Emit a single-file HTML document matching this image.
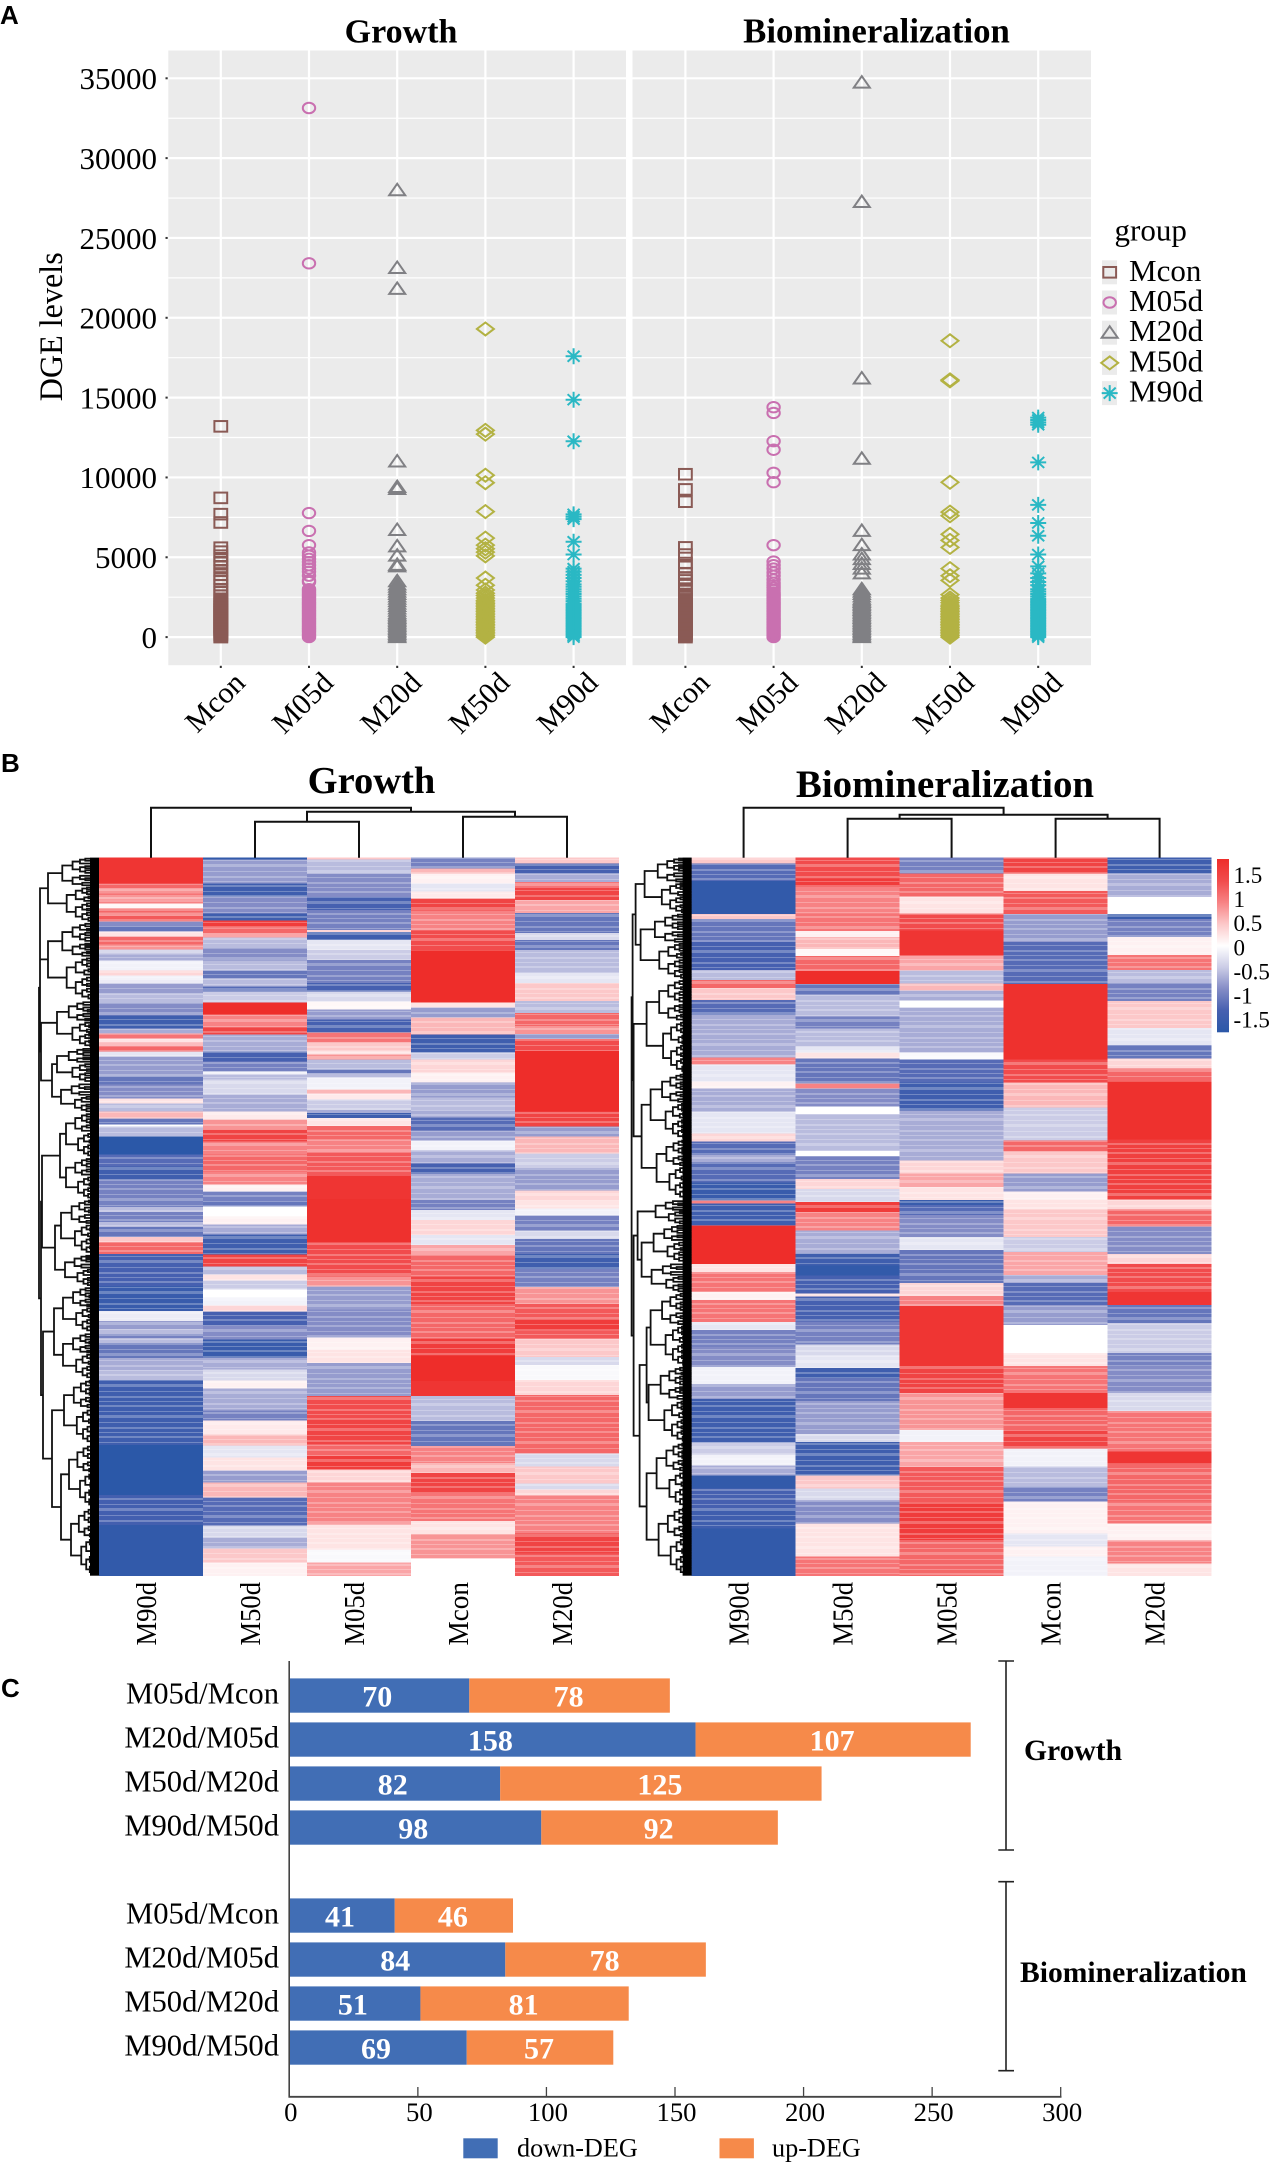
<!DOCTYPE html>
<html lang="en">
<head>
<meta charset="utf-8">
<title>DGE levels, heatmaps and DEG counts</title>
<style>
html,body{margin:0;padding:0;background:#fff}
svg{display:block}
text{font-family:"Liberation Serif",serif;fill:#000}
.letter{font-family:"Liberation Sans",sans-serif;font-weight:700;font-size:26px}
.bold{font-weight:700}
</style>
</head>
<body>
<svg id="figure" xmlns="http://www.w3.org/2000/svg" width="1274" height="2168" viewBox="0 0 1274 2168">
<rect width="1274" height="2168" fill="#fff"/>
<text class="letter" x="0" y="24">A</text>
<text class="letter" x="1" y="772">B</text>
<text class="letter" x="1" y="1697">C</text>
<text class="bold" x="401" y="42.5" font-size="34" text-anchor="middle">Growth</text>
<text class="bold" x="876.5" y="42.5" font-size="34.8" text-anchor="middle">Biomineralization</text>
<text font-size="33" text-anchor="middle" textLength="149" lengthAdjust="spacingAndGlyphs" transform="translate(62,326.8) rotate(-90)">DGE levels</text>
<text x="1114.5" y="240.7" font-size="31">group</text>
<text class="bold" x="371.5" y="793" font-size="38.5" text-anchor="middle">Growth</text>
<text class="bold" x="945" y="797" font-size="38.9" text-anchor="middle">Biomineralization</text>
<text class="bold" x="1024" y="1760" font-size="29.6">Growth</text>
<text class="bold" x="1020" y="1982" font-size="29.6">Biomineralization</text>
</svg>
<script>
/* ---------- Panel A data ---------- */
const scatterGroups = ['Mcon','M05d','M20d','M50d','M90d'];
const scatterTicks = [0,5000,10000,15000,20000,25000,30000,35000];
const growthMcon = [13200,8720,7700,7180,5600,5350,5100,4850,4650,4400,4150,3900,3650,3500,3250,3000,2800,2600,2400,2270,2150,2050,1950,1850,1750,1650,1550,1450,1350,1250,1150,1050,950,850,750,650,550,450,350,250,150,50,0];
const growthM05d = [33140,23410,7770,6650,5760,5300,5100,4900,4700,4500,4300,4100,3850,3550,3450,3000,2900,2800,2700,2600,2500,2400,2300,2200,2100,2000,1900,1800,1700,1600,1500,1400,1300,1200,1100,1000,900,800,700,600,500,400,300,200,100,0];
const growthM20d = [27990,23120,21810,11000,9400,9280,6710,5680,5100,4520,4430,3500,3300,3150,3000,2850,2700,2550,2400,2250,2100,1950,1800,1650,1500,1400,1300,1200,1100,1000,900,800,700,600,500,400,300,200,100,0];
const growthM50d = [19300,12950,12710,10140,9670,7860,6200,5760,5530,5320,5090,3700,3250,2950,2750,2600,2450,2300,2200,2100,2000,1900,1800,1700,1600,1500,1400,1300,1200,1100,1000,900,800,700,600,500,400,300,200,100,0];
const growthM90d = [17590,14870,12270,7690,7540,7390,5970,5170,4290,4100,3900,3700,3500,3300,3150,3000,2850,2700,2550,2400,2250,2100,2000,1900,1800,1700,1600,1500,1400,1300,1200,1100,1000,900,800,700,600,500,400,300,200,100,0];
const bioMcon = [10200,9250,8480,5620,5170,4640,4400,4000,3700,3550,3250,2960,2700,2500,2365,2200,2100,2000,1900,1800,1700,1600,1500,1400,1300,1200,1100,1000,900,800,700,600,500,400,300,200,100,0];
const bioM05d = [14400,14040,12270,11735,10290,9700,5760,4730,4500,4290,4050,3840,3600,3400,3250,3100,2950,2800,2700,2600,2500,2400,2300,2200,2100,2000,1900,1800,1700,1600,1500,1400,1300,1200,1100,1000,900,800,700,600,500,400,300,200,100,0];
const bioM20d = [34730,27250,16200,11170,6650,5760,5170,4880,4580,4290,3990,3000,2850,2700,2550,2400,2300,2200,2100,2000,1900,1800,1700,1600,1500,1400,1300,1200,1100,1000,900,800,700,600,500,400,300,200,100,0];
const bioM50d = [18560,16110,16050,9700,7830,7600,6440,6060,5620,4290,3840,3550,2660,2450,2300,2150,2000,1900,1800,1700,1600,1500,1400,1300,1200,1100,1000,900,800,700,600,500,400,300,200,100,0];
const bioM90d = [13750,13600,13450,13300,10940,8280,7150,6350,5170,4430,3990,3700,3450,3250,3000,2850,2700,2550,2400,2300,2200,2100,2000,1900,1800,1700,1600,1500,1400,1300,1200,1100,1000,900,800,700,600,500,400,300,200,100,0];

/* ---------- Panel B data: [value, gene rows] runs, top to bottom ---------- */
const heatLabels = ['M90d','M50d','M05d','Mcon','M20d'];
const colorbarTicks = [1.5,1,0.5,0,-0.5,-1,-1.5];
const growthHeatM90d = [[1.5,26],[1.0,5],[0.7,5],[0.9,3],[0.5,3],[0.8,4],[0.05,5],[1.0,4],[0.7,3],[1.1,6],[-0.8,5],[-1.0,5],[0.2,5],[1.0,8],[0.7,5],[-0.4,5],[-0.6,6],[-0.1,10],[0.3,5],[-0.1,5],[-0.2,3],[-0.7,10],[-0.5,9],[-0.8,13],[-1.3,13],[-0.6,5],[0.9,5],[0.2,4],[0.6,4],[1.0,5],[-0.2,5],[-0.7,20],[-1.0,8],[-0.8,14],[0.2,5],[-0.5,8],[0.5,7],[-1.0,6],[0,2],[-0.5,10],[-1.6,18],[-1.1,12],[-1.3,13],[-0.9,20],[-0.9,8],[-0.5,5],[-0.9,10],[-0.5,5],[-1.0,10],[0.4,5],[1.0,12],[-1.2,32],[-1.4,25],[-0.15,10],[-0.7,8],[-0.5,5],[-0.9,4],[-0.5,5],[-1.0,15],[-0.6,12],[-0.5,10],[-1.3,65],[-1.6,50],[-1.25,30],[-1.5,51]];
const growthHeatM50d = [[-1.5,2],[-0.7,24],[-1.3,13],[-0.8,17],[-1.3,7],[1.4,7],[1.0,6],[0.6,4],[-0.5,10],[-0.8,13],[-0.5,10],[-1.0,8],[-0.5,8],[-1.1,5],[-0.4,11],[1.6,12],[0.8,13],[1.3,7],[-0.6,17],[-1.2,10],[-0.9,10],[-0.1,3],[-0.5,5],[-0.3,15],[-0.6,17],[0.15,8],[0.7,10],[1.3,12],[0.8,13],[1.0,17],[0.8,13],[0.1,7],[-0.9,10],[-1.0,5],[0,10],[0.1,8],[-0.6,10],[-1.3,20],[1.3,12],[-0.5,8],[0.2,6],[-0.4,9],[0,8],[-0.1,8],[0.3,6],[-1.2,14],[-0.8,14],[-1.4,18],[-0.6,12],[-0.3,11],[0.1,8],[-0.6,22],[-0.9,10],[0.15,14],[0.5,11],[-0.2,12],[0.2,13],[-0.7,12],[0.5,15],[-1.1,28],[-0.3,12],[-0.6,11],[0.4,14],[0.1,13]];
const growthHeatM05d = [[0.4,2],[-0.5,14],[-0.8,23],[-1.2,13],[-0.9,20],[0.3,2],[-1.3,8],[-0.2,10],[-0.4,10],[-0.9,23],[-1.2,8],[-0.3,10],[0.05,8],[-0.7,10],[-1.2,13],[0.9,10],[0.4,8],[0.2,4],[0.7,5],[-0.5,10],[-1.0,4],[-0.5,4],[-0.1,12],[0.5,4],[0.15,6],[-0.4,10],[-0.6,3],[-1.3,5],[0.2,8],[1.0,14],[0.8,13],[1.1,23],[1.5,23],[1.55,43],[1.2,34],[0.7,10],[-0.7,23],[-0.8,28],[0.1,12],[0.2,13],[-0.7,33],[1.2,23],[1.3,25],[1.0,12],[1.4,13],[0.3,13],[0.8,42],[0.2,25],[-0.05,13],[0.6,13]];
const growthHeatMcon = [[-0.9,11],[0.5,5],[0.1,10],[-0.2,8],[0.15,7],[1.3,12],[0.8,15],[0.8,5],[1.2,20],[1.6,52],[0.2,5],[-0.7,10],[0.5,17],[-1.3,18],[-0.4,7],[0.3,13],[0.1,10],[-0.7,15],[-0.5,13],[-0.6,7],[-1.1,13],[-0.7,10],[-0.1,10],[-0.6,13],[-1.2,10],[-0.6,27],[-0.9,10],[-0.2,10],[0.3,15],[-0.2,10],[0.6,10],[1.0,22],[1.3,27],[1.0,35],[1.4,17],[1.6,25],[1.5,15],[-0.5,25],[-1.0,25],[0.8,17],[0.5,10],[1.3,20],[0.9,28],[0.2,13],[0.7,25],[0,17]];
const growthHeatM20d = [[0.4,6],[-1.2,10],[-0.6,8],[0.9,6],[1.3,12],[0.6,13],[-1.0,20],[-0.3,7],[-1.0,10],[-0.5,23],[-0.2,10],[0.4,18],[-0.5,12],[1.0,13],[0.7,8],[-0.7,5],[1.2,12],[1.6,60],[1.3,15],[-0.7,10],[0.5,17],[-0.4,15],[-0.7,22],[0.3,10],[0.2,8],[-0.1,7],[-0.9,15],[-0.3,8],[-1.0,15],[-1.3,15],[-0.9,18],[0.7,17],[1.1,15],[1.4,12],[1.1,8],[0.4,18],[-0.3,8],[-0.05,15],[0.3,15],[1.0,58],[-0.3,13],[0.4,17],[-0.3,6],[0.3,6],[0.8,38],[1.3,20],[1.1,22]];
const bioHeatM90d = [[0.4,6],[-1.1,17],[-1.5,33],[0.4,5],[-1.0,23],[-1.2,28],[-0.5,10],[1.0,8],[0.4,12],[-1.1,15],[-0.6,42],[0.8,7],[-0.2,17],[0.1,7],[-0.6,23],[-0.2,22],[0.3,8],[-1.1,13],[-0.6,8],[-1.1,20],[-1.4,18],[0.8,3],[-1.3,22],[1.6,38],[0.2,8],[0.9,20],[0.1,8],[0.9,22],[-0.2,8],[-0.9,17],[-0.8,20],[-0.1,17],[-0.7,15],[-1.3,43],[-0.4,12],[-0.1,11],[-0.6,10],[-1.5,13],[-1.2,20],[-1.3,20],[-1.5,47]];
const bioHeatM50d = [[1.2,21],[1.4,8],[0.8,27],[0.9,17],[0.1,6],[0.5,12],[0.05,7],[1.0,15],[1.6,13],[-1.0,10],[-0.5,22],[-0.9,12],[-0.5,18],[-0.2,6],[0.2,6],[-1.0,25],[0.8,5],[-0.8,18],[0,7],[-0.5,37],[0,5],[-0.9,23],[0.3,10],[-0.3,13],[1.4,10],[0.8,18],[-0.6,23],[-1.3,12],[-1.5,10],[-1.2,18],[0.2,3],[-1.2,25],[-0.9,23],[-0.3,10],[-0.2,13],[-1.3,10],[-1.0,23],[-0.7,33],[-0.3,8],[-1.3,33],[0.4,13],[-0.3,12],[-0.8,23],[0.2,33],[0.9,19]];
const bioHeatM05d = [[-0.9,16],[1.0,23],[0.2,17],[1.2,17],[1.5,25],[0.6,15],[-0.5,13],[0.5,7],[-0.6,10],[0,7],[-0.6,45],[-0.05,7],[-1.1,23],[-1.3,28],[-0.6,50],[0.3,13],[0.6,14],[0.2,13],[-1.4,5],[-1.1,10],[-0.8,22],[-0.2,13],[-1.0,33],[0.3,13],[0.8,10],[1.5,60],[1.3,27],[0.7,37],[-0.1,12],[0.6,25],[1.1,35],[1.4,38],[1.0,36]];
const bioHeatMcon = [[1.3,16],[0.2,17],[1.1,23],[-0.7,28],[-1.1,42],[1.55,75],[1.2,23],[0.5,25],[-0.4,33],[1.0,11],[0.4,22],[-0.7,18],[0.1,8],[0.2,10],[0.4,27],[-0.4,15],[0.6,23],[-0.6,8],[-1.1,22],[-0.7,20],[0,28],[0.2,13],[0.9,27],[1.5,15],[1.0,22],[1.3,18],[-0.1,18],[-0.5,20],[-0.9,15],[0.1,32],[-0.2,13],[0.1,10],[-0.1,19]];
const bioHeatM20d = [[-1.3,16],[-0.6,23],[0,17],[-1.4,5],[-0.9,18],[0.1,18],[0.9,15],[-0.5,13],[-0.9,18],[0.4,27],[-0.2,17],[-1.0,13],[0.3,10],[1.0,13],[1.55,58],[1.35,60],[0.3,10],[1.0,17],[-0.8,27],[0.3,10],[1.2,28],[1.5,13],[-1.0,18],[-0.4,30],[-0.9,13],[-0.8,27],[-0.3,18],[0.9,40],[1.5,12],[1.0,38],[0.9,22],[0.1,17],[0.8,23],[0.2,12]];
/* row dendrograms: [depth, childA, childB]; a cluster is [depth, firstRow, lastRow] */
const growthRowTree = [60,[59,[59,[51,0,65],[51,65,143]],[58,[42,143,190],[47,[42,190,225],[38,225,255]]]],[58,[57,[39,[33,255,300],[33,300,342]],[44,[38,342,397],[34,397,429]]],[56,[45,[36,429,475],[36,475,522]],[47,[35,522,587],[38,[30,587,650],[28,650,718]]]]]];
const bioRowTree = [60,[59,[56,[47,0,56],[51,56,122]],[58,[45,122,216],[50,[41,216,282],[35,282,342]]]],[58,[54,[36,342,367],[50,[38,367,405],[40,405,435]]],[52,[45,[41,435,509],[43,509,585]],[45,[35,585,650],[33,650,718]]]]];
/* column dendrogram merge heights: [columnA, columnB, height] */
const growthColMerges = [[1,2,36],[3,4,41],[1.5,3.5,46],[0,2.5,50]];
const bioColMerges = [[1,2,39],[3,4,39],[1.5,3.5,43],[0,2.5,50]];

/* ---------- Panel C data ---------- */
const barCategories = ['M05d/Mcon','M20d/M05d','M50d/M20d','M90d/M50d'];
const growthDown = [70,158,82,98];
const growthUp = [78,107,125,92];
const bioDown = [41,84,51,69];
const bioUp = [46,78,81,57];
const barTicks = [0,50,100,150,200,250,300];

/* ---------- helpers ---------- */
const NS = 'http://www.w3.org/2000/svg';
const root = document.getElementById('figure');
function add(parent, tag, attrs, text) {
  const el = document.createElementNS(NS, tag);
  for (const k in attrs) el.setAttribute(k, attrs[k]);
  if (text !== undefined) el.textContent = text;
  parent.appendChild(el);
  return el;
}
function group(name) {
  const g = add(root, 'g', {});
  
  
  return g;
}

/* ---------- Panel A ---------- */
const yVal = v => 637.1 - v * (558.8 / 35000);
const PANEL_TOP = 50.5, PANEL_BOTTOM = 665.2;
const seriesColors = ['#8a5a55','#c970b0','#808084','#b3b243','#2ab8c4'];
function drawMarker(g, shape, cx, cy, color) {
  let el;
  const common = {fill:'none', stroke:color, 'stroke-width':2};
  if (shape === 0) el = add(g,'rect',Object.assign({x:cx-6.4,y:cy-5.3,width:12.8,height:10.6},common));
  else if (shape === 1) el = add(g,'ellipse',Object.assign({cx:cx,cy:cy,rx:6.2,ry:5.2},common));
  else if (shape === 2) el = add(g,'path',Object.assign({d:`M${cx-8} ${cy+5}L${cx} ${cy-6.5}L${cx+8} ${cy+5}Z`},common));
  else if (shape === 3) el = add(g,'path',Object.assign({d:`M${cx-8.5} ${cy}L${cx} ${cy-6.5}L${cx+8.5} ${cy}L${cx} ${cy+6.5}Z`},common));
  else el = add(g,'path',Object.assign({d:`M${cx-8} ${cy}H${cx+8}M${cx} ${cy-8}V${cy+8}M${cx-6} ${cy-5.5}L${cx+6} ${cy+5.5}M${cx-6} ${cy+5.5}L${cx+6} ${cy-5.5}`},common));
  
  
}
function drawScatter(name, x0, x1, cats, seriesList, showY) {
  const g = group(name);
  const bg = add(g,'rect',{x:x0,y:PANEL_TOP,width:x1-x0,height:PANEL_BOTTOM-PANEL_TOP,fill:'#ebebeb'});
  
  
  scatterTicks.forEach((t,i) => {
    const y = yVal(t);
    const gl = add(g,'line',{x1:x0,x2:x1,y1:y,y2:y,stroke:'#fff','stroke-width':2.2});
    
    
    if (i < scatterTicks.length - 1) {
      const ym = yVal(t + (scatterTicks[i+1] - t) / 2);
      const mn = add(g,'line',{x1:x0,x2:x1,y1:ym,y2:ym,stroke:'#fff','stroke-width':1.2});
      
      
    }
    if (showY) {
      const tk = add(g,'line',{x1:x0-2.8,x2:x0-0.6,y1:y,y2:y,stroke:'#333','stroke-width':2});
      
      
      const lb = add(g,'text',{x:157,y:y+10.8,'font-size':31,'text-anchor':'end'},String(t));
      
      
    }
  });
  cats.forEach((cx,i) => {
    const vg = add(g,'line',{x1:cx,x2:cx,y1:PANEL_TOP,y2:PANEL_BOTTOM,stroke:'#fff','stroke-width':2.2});
    
    
    const tk = add(g,'line',{x1:cx,x2:cx,y1:PANEL_BOTTOM+0.6,y2:PANEL_BOTTOM+2.8,stroke:'#333','stroke-width':2});
    
    
    const lb = add(g,'text',{'font-size':30,'text-anchor':'end',transform:`translate(${cx+26},684.5) rotate(-45)`},scatterGroups[i]);
    
    
    const sg = add(g,'g',{});
    
    
    seriesList[i].forEach(v => drawMarker(sg, i, cx, yVal(v), seriesColors[i]));
  });
}
const catsLeft = [0,1,2,3,4].map(i => 220.8 + i * 88.2);
const catsRight = [0,1,2,3,4].map(i => 685.4 + i * 88.2);
drawScatter('scatter-growth', 168.3, 626, catsLeft, [growthMcon,growthM05d,growthM20d,growthM50d,growthM90d], true);
drawScatter('scatter-biomineralization', 632.5, 1091, catsRight, [bioMcon,bioM05d,bioM20d,bioM50d,bioM90d], false);

const legendGroup = group('scatter-legend');
scatterGroups.forEach((name,i) => {
  const cy = 272.3 + i * 30.2;
  const entry = add(legendGroup,'g',{});
  
  
  const kb = add(entry,'rect',{x:1102,y:cy-12,width:15,height:24,fill:'#ebebeb'});
  
  
  drawMarker(entry, i, 1109.7, cy, seriesColors[i]);
  const t = add(entry,'text',{x:1129,y:cy+8.5,'font-size':31},name);
  
  
});

/* ---------- Panel B ---------- */
const redRamp = [[255,255,255],[252,200,201],[247,130,132],[241,75,76],[238,45,42]];
const blueRamp = [[255,255,255],[203,204,230],[132,140,198],[70,96,176],[43,88,168]];
const MAXV = 1.6;
function heatColor(v) {
  const ramp = v >= 0 ? redRamp : blueRamp;
  const t = Math.min(Math.abs(v) / MAXV, 1) * (ramp.length - 1);
  const i = Math.min(Math.floor(t), ramp.length - 2), f = t - i;
  const c = ramp[i].map((a,k) => Math.round(a + (ramp[i+1][k] - a) * f));
  return `rgb(${c[0]},${c[1]},${c[2]})`;
}
const HEAT_TOP = 857.7, HEAT_H = 718, COL_W = 104;
const defs = add(root,'defs',{});
/* decorative fine row striping seen inside the non-saturated bands */
[0,7,13,19,26].forEach((shift,i) => {
  const pat = add(defs,'pattern',{id:'texture'+i,patternUnits:'userSpaceOnUse',width:104,height:31,patternTransform:`translate(0,${shift})`});
  [[1,2],[6,1],[10,2],[16,1],[20,3],[27,1]].forEach(s => add(pat,'rect',{x:0,y:s[0],width:104,height:s[1],fill:'#fff','fill-opacity':0.26}));
});
function drawHeatmap(name, left, columns, labelBase, rowTree, colMerges) {
  const g = group(name);
  columns.forEach((runs,c) => {
    const total = runs.reduce((s,r) => s + r[1], 0);
    const cg = add(g,'g',{'shape-rendering':'crispEdges'});
    
    
    let acc = 0;
    runs.forEach(r => {
      const y0 = HEAT_TOP + acc / total * HEAT_H;
      acc += r[1];
      const y1 = HEAT_TOP + acc / total * HEAT_H;
      const cell = add(cg,'rect',{x:left+c*COL_W,y:y0,width:COL_W,height:y1-y0+0.4,fill:heatColor(r[0])});
      
      
      if (Math.abs(r[0]) < 1.45) {
        const tex = add(cg,'rect',{x:left+c*COL_W,y:y0,width:COL_W,height:y1-y0+0.4,fill:`url(#texture${c})`});
        
        
      }
    });
    const lb = add(g,'text',{'font-size':28,'text-anchor':'end',textLength:63.5,lengthAdjust:'spacingAndGlyphs',transform:`translate(${labelBase+c*COL_W},1582) rotate(-90)`},heatLabels[c]);
    
    
  });
  /* column dendrogram */
  let dCol = '';
  const colX = i => left + COL_W * (i + 0.5);
  const tops = {};
  colMerges.forEach(m => {
    const yTop = HEAT_TOP - m[2];
    const ya = tops[m[0]] !== undefined ? tops[m[0]] : HEAT_TOP;
    const yb = tops[m[1]] !== undefined ? tops[m[1]] : HEAT_TOP;
    dCol += `M${colX(m[0])} ${ya}V${yTop}H${colX(m[1])}V${yb}`;
    tops[(m[0]+m[1])/2] = yTop;
  });
  const cd = add(g,'path',{d:dCol,fill:'none',stroke:'#111','stroke-width':2});
  
  
  /* row dendrogram */
  let dRow = '';
  const rowY = r => HEAT_TOP + r / 718 * HEAT_H;
  function subdivide(r0, r1, depth, level) {
    if (r1 - r0 < 3.5 || depth < 3) {
      const y = rowY((r0 + r1) / 2);
      dRow += `M${left-depth} ${y}H${left}`;
      return y;
    }
    const split = r0 + (r1 - r0) * (level % 2 ? 0.58 : 0.44);
    const nd = depth * 0.72;
    const nb = nd * (level % 3 ? 1 : 0.88);
    const ya = subdivide(r0, split, nd, level + 1);
    const yb = subdivide(split, r1, nb, level + 2);
    dRow += `M${left-nd} ${ya}H${left-depth}V${yb}H${left-nb}`;
    return (ya + yb) / 2;
  }
  function walk(node) {
    if (typeof node[1] === 'number') return {y: subdivide(node[1], node[2], node[0], 0), d: node[0]};
    const a = walk(node[1]), b = walk(node[2]), x = left - node[0];
    dRow += `M${left-a.d} ${a.y}H${x}V${b.y}H${left-b.d}`;
    return {y: (a.y + b.y) / 2, d: node[0]};
  }
  walk(rowTree);
  const rd = add(g,'path',{d:dRow,fill:'none',stroke:'#111','stroke-width':1.8});
  
  
  const comb = add(g,'rect',{x:left-9,y:HEAT_TOP,width:9,height:HEAT_H,fill:'#000'});
  
  
}
drawHeatmap('heatmap-growth', 99, [growthHeatM90d,growthHeatM50d,growthHeatM05d,growthHeatMcon,growthHeatM20d], 156, growthRowTree, growthColMerges);
drawHeatmap('heatmap-biomineralization', 691.6, [bioHeatM90d,bioHeatM50d,bioHeatM05d,bioHeatMcon,bioHeatM20d], 748.3, bioRowTree, bioColMerges);

/* colour bar */
const cbGroup = group('heatmap-colorbar');
const grad = add(defs,'linearGradient',{id:'cbGrad',x1:0,y1:0,x2:0,y2:1});
[1.6,1.2,0.8,0.4,0,-0.4,-0.8,-1.2,-1.6].forEach((v,i) => add(grad,'stop',{offset:(i/8),'stop-color':heatColor(v)}));
const cbRect = add(cbGroup,'rect',{x:1217,y:859,width:12,height:173.3,fill:'url(#cbGrad)'});


colorbarTicks.forEach(v => {
  const y = 947.3 - v * 48.2;
  const t = add(cbGroup,'text',{x:1233.5,y:y+8,'font-size':23},String(v));
  
  
});

/* ---------- Panel C ---------- */
const xBar = v => 289.3 + v * (771.4 / 300);
const barBlue = '#416eb5', barOrange = '#f68a4a';
function drawBars(name, top, down, up) {
  const g = group(name);
  barCategories.forEach((cat,i) => {
    const y = top + i * 44, h = 34.3, d = down[i], u = up[i];
    const bd = add(g,'rect',{x:xBar(0),y:y,width:xBar(d)-xBar(0),height:h,fill:barBlue});
    
    
    const bu = add(g,'rect',{x:xBar(d),y:y,width:xBar(d+u)-xBar(d),height:h,fill:barOrange});
    
    
    const tc = add(g,'text',{x:279,y:y+25.2,'font-size':30.6,'text-anchor':'end'},cat);
    
    
    const td = add(g,'text',{x:xBar(d/2)-2,y:y+28,'font-size':30,'font-weight':700,'text-anchor':'middle',style:'fill:#fff'},String(d));
    
    
    const tu = add(g,'text',{x:xBar(d+u/2)-1,y:y+28,'font-size':30,'font-weight':700,'text-anchor':'middle',style:'fill:#fff'},String(u));
    
    
  });
}
drawBars('bars-growth', 1678.4, growthDown, growthUp);
drawBars('bars-biomineralization', 1898.4, bioDown, bioUp);

const axisGroup = group('bar-axes');
const yAxisLine = add(axisGroup,'line',{x1:289.2,x2:289.2,y1:1661,y2:2097.5,stroke:'#444','stroke-width':1.6});


const xAxisLine = add(axisGroup,'line',{x1:288.5,x2:1061.5,y1:2096.8,y2:2096.8,stroke:'#444','stroke-width':1.8});


barTicks.forEach(t => {
  const x = xBar(t);
  const tk = add(axisGroup,'line',{x1:x,x2:x,y1:2087,y2:2097,stroke:'#444','stroke-width':1.3});
  
  
  const lb = add(axisGroup,'text',{x:x+1.5,y:2121,'font-size':26.7,'text-anchor':'middle'},String(t));
  
  
});

const barLegend = group('bar-legend');
const swDown = add(barLegend,'rect',{x:463.3,y:2138.3,width:34.4,height:20,fill:barBlue});


const txDown = add(barLegend,'text',{x:517,y:2156.7,'font-size':26.2},'down-DEG');


const swUp = add(barLegend,'rect',{x:719.5,y:2138.3,width:34.4,height:20,fill:barOrange});


const txUp = add(barLegend,'text',{x:772,y:2156.7,'font-size':26.2},'up-DEG');



const bracketGroup = group('bar-brackets');
[[1661,1850],[1881.7,2070.7]].forEach(b => {
  const p = add(bracketGroup,'path',{d:`M998.3 ${b[0]}H1014M1006 ${b[0]}V${b[1]}M998.3 ${b[1]}H1014`,fill:'none',stroke:'#222','stroke-width':1.6});
  
  
});
</script>
</body>
</html>
